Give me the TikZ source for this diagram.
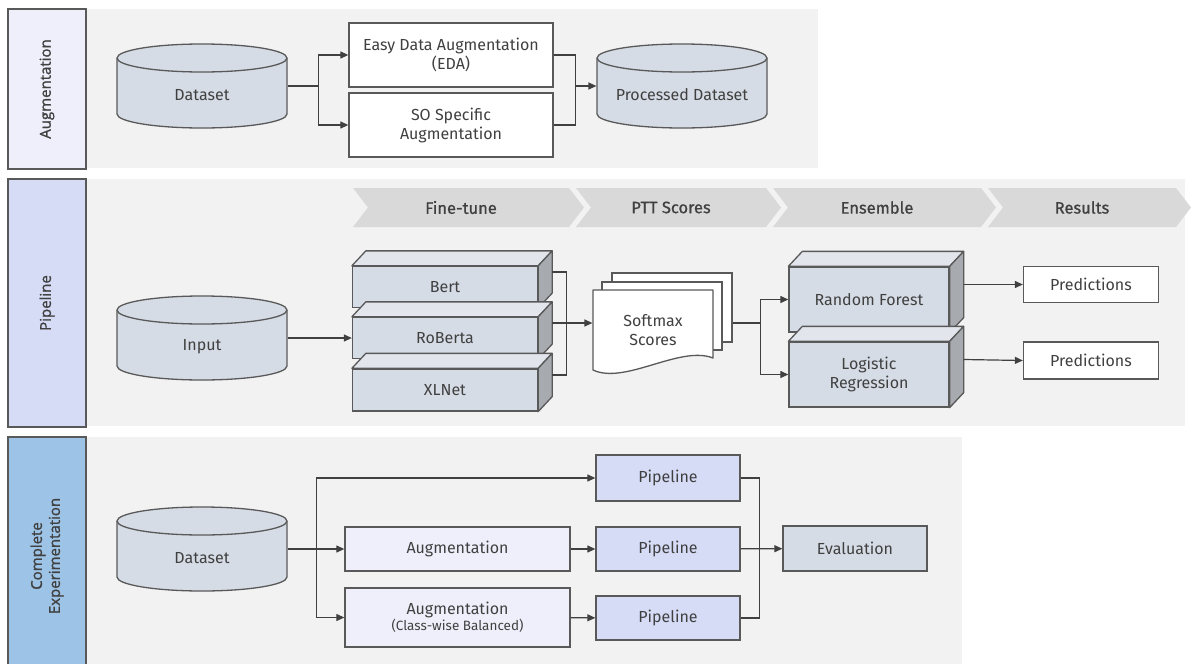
\documentclass[tikz,border=0pt]{standalone}
\usepackage{fontspec}
\setmainfont{Fira Sans}
\newfontfamily\sidefont{Open Sans}[FakeBold=1.2]
\newfontfamily\stagefont{Fira Sans}[FakeBold=0.8]
\usetikzlibrary{arrows.meta}
\usetikzlibrary{positioning}

\definecolor{panelgray}{HTML}{F2F2F2}
\definecolor{stagegray}{HTML}{D9D9D9}
\definecolor{edgegray}{HTML}{595959}
\definecolor{txtgray}{HTML}{404040}
\definecolor{steel}{HTML}{D6DCE5}
\definecolor{steeltop}{HTML}{E2E6EC}
\definecolor{steelside}{HTML}{A7AAAF}
\definecolor{lavender}{HTML}{EFEFFB}
\definecolor{periwinkle}{HTML}{D6DCF6}
\definecolor{skyblue}{HTML}{9DC3E6}

\tikzset{every picture/.style={x=1pt,y=-1pt,line width=1.2pt},
  every node/.style={text=txtgray,font=\fontsize{16}{19}\selectfont},
  panel/.style={fill=panelgray},
  side/.style={draw=edgegray,line width=1.4pt,rotate=90,minimum height=78pt,inner sep=0pt,align=center,font=\sidefont\fontsize{15}{18}\selectfont},
  stage/.style={fill=stagegray},
  stagetxt/.style={font=\stagefont\fontsize{16.5}{18}\selectfont},
  box/.style={draw=edgegray,fill=white,line width=1.3pt,inner sep=0pt,align=center},
  face/.style={draw=edgegray,line width=1.3pt,line join=round},
  dbshape/.style={draw=edgegray,line width=1.3pt,fill=steel},
  dbnode/.style={minimum width=170pt,minimum height=84pt,inner sep=0pt},
  link/.style={draw=txtgray},
  arr/.style={draw=txtgray,-{Triangle[length=8pt,width=7pt]}}
}

\begin{document}
\begin{tikzpicture}
\useasboundingbox (0,0) rectangle (1192,664);

% the three rows
\fill[panel] (86,9) rectangle (818,168);
\fill[panel] (86,179) rectangle (1185,426);
\fill[panel] (86,437) rectangle (962,664);

\node[side,fill=lavender,minimum width=160pt] (sd1) at (47,89) {Augmentation};
\node[side,fill=periwinkle,minimum width=248pt] (sd2) at (47,303) {Pipeline};
\node[side,fill=skyblue,minimum width=238pt] (sd3) at (47,556) {Complete\\Experimentation};

% stage banner
\foreach \l/\r/\t [count=\i] in {353/569/Fine-tune,576/766/PTT Scores,773/981/Ensemble,988/1176/Results} {
\fill[stage] (\l,188) -- (\r,188) -- (\r+15,207.5) -- (\r,227) -- (\l,227) -- (\l+15,207.5) -- cycle;
\node[stagetxt] (st\i) at (\l/2+\r/2,207.5) {\t};
}

% data stores
\foreach \n/\cx/\cy/\t in {ds/202/86/Dataset,pd/682/86/Processed Dataset,inp/202/338/Input,ds2/202/549/Dataset} {
\filldraw[dbshape] (\cx-85,\cy-28) -- (\cx-85,\cy+28) arc[start angle=180,end angle=360,x radius=85pt,y radius=14pt] -- (\cx+85,\cy-28) arc[start angle=0,end angle=180,x radius=85pt,y radius=14pt] -- cycle;
\draw[dbshape,fill=none] (\cx-85,\cy-28) arc[start angle=180,end angle=360,x radius=85pt,y radius=14pt];
\node[dbnode,label={[yshift=-9pt]center:\t}] (\n) at (\cx,\cy) {};
}

% augmentation row
\node[box,minimum width=204pt,minimum height=64pt] (eda) at (451,55) {Easy Data Augmentation\\(EDA)};
\node[box,minimum width=204pt,minimum height=64pt] (so) at (451,125) {SO Specific\\Augmentation};

\draw[arr] (ds.east) -- ++(31,0) |- (eda.west);
\draw[arr] (ds.east) -- ++(31,0) |- (so.west);
\draw[link] (eda.east) -- ++(22,0) |- (so.east);
\draw[arr] ([xshift=22pt]eda.east) |- (pd.west);

% pipeline row: models and ensembles as blocks
\foreach \n/\cx/\cy/\w/\h/\t in {bert/445/287/185/41/Bert,rob/445/338/185/41/RoBerta,xln/445/390/185/42/XLNet,rf/869/299.5/160/65/Random Forest,lr/869/374.5/160/65/Logistic\\Regression} {
\node[box,fill=steel,minimum width=\w pt,minimum height=\h pt] (\n) at (\cx,\cy) {\t};
\filldraw[face,fill=steeltop] (\n.north west) -- ++(14pt,15pt) -- ([shift={(14pt,15pt)}]\n.north east) -- (\n.north east) -- cycle;
\filldraw[face,fill=steelside] (\n.north east) -- ++(14pt,15pt) -- ([shift={(14pt,15pt)}]\n.south east) -- (\n.south east) -- cycle;
\coordinate (\n-b) at ([shift={(14pt,15pt)}]\n.east);
}

% stacked score sheets
\node[box,minimum width=120pt,minimum height=69pt] (sm3) at (672,307.5) {};
\node[box,minimum width=120pt,minimum height=68pt] (sm2) at (662,316) {};
\filldraw[face,fill=white] (593,290) -- (593,370) .. controls (625,385) and (680,345) .. (713,358) -- (713,290) -- cycle;
\node[inner sep=0pt,minimum width=120pt,minimum height=80pt,align=center] (sm) at (653,330) {Softmax\\Scores};

\node[box,minimum width=135pt,minimum height=36pt] (p1) at (1091,284.5) {Predictions};
\node[box,minimum width=135pt,minimum height=37pt] (p2) at (1091,360.5) {Predictions};

\draw[arr] (inp.east) -- (inp.east -| rob.west);
\draw[link] (bert-b) -- ++(14,0) |- (xln-b);
\draw[arr] (rob-b) -- (rob-b -| sm.west);
\draw[arr] (sm3.east |- rob-b) -- ++(28,0) |- (rf.west);
\draw[arr] (sm3.east |- rob-b) -- ++(28,0) |- (lr.west);
\draw[arr] (rf-b) -- (p1.west);
\draw[arr] (lr-b) -- (p2.west);

% experiment row
\node[box,fill=lavender,minimum width=225pt,minimum height=44pt] (aug1) at (457.5,549) {Augmentation};
\node[box,fill=lavender,minimum width=225pt,minimum height=59pt] (aug2) at (457.5,617.5) {Augmentation\\[-3pt]{\fontsize{13.5}{15}\selectfont(Class-wise Balanced)}};
\node[box,fill=periwinkle,minimum width=144pt,minimum height=46pt] (pl1) at (668,478) {Pipeline};
\node[box,fill=periwinkle,minimum width=144pt,minimum height=44pt] (pl2) at (668,549) {Pipeline};
\node[box,fill=periwinkle,minimum width=144pt,minimum height=44pt] (pl3) at (668,618) {Pipeline};
\node[box,fill=steel,minimum width=144pt,minimum height=45pt] (ev) at (855,548.5) {Evaluation};

\draw[arr] (ds2.east) -- ++(29,0) |- (pl1.west);
\draw[arr] (ds2.east) -- (aug1.west);
\draw[arr] (ds2.east) -- ++(29,0) |- (aug2.west);
\draw[arr] (aug1) -- (pl2);
\draw[arr] (aug2) -- (pl3);
\draw[link] (pl1.east) -- ++(19,0) |- (pl3.east);
\draw[arr] (pl2) -- (ev);
\end{tikzpicture}
\end{document}
